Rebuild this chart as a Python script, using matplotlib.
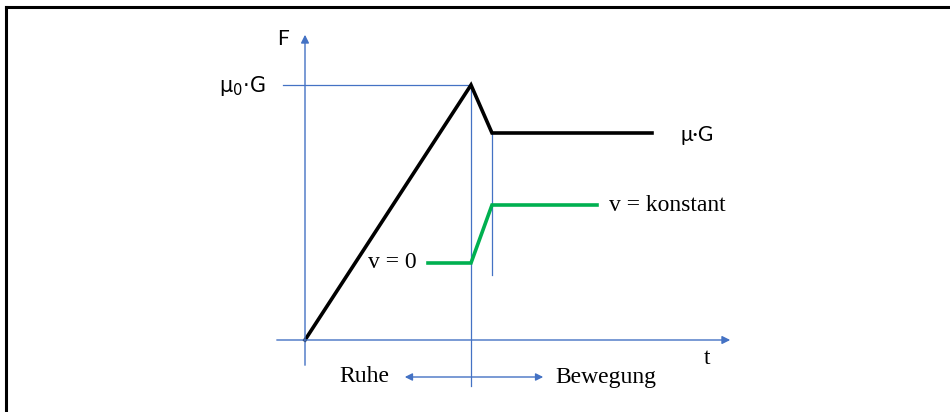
import numpy as np
import matplotlib
matplotlib.use('Agg')
import matplotlib.pyplot as plt
from matplotlib.lines import Line2D

# Kraftverlauf F(t): Haftreibung bis mu0*G, danach Gleitreibung mu*G
t_force = [0, 166, 187, 347]
F_force = [0, 255, 207, 207]

# Geschwindigkeit: v = 0 in Ruhe, dann v = konstant
t_speed = [123, 166, 187, 292]
v_speed = [77, 77, 135, 135]

F_haft = 255      # mu0*G
t_haft = 166      # Losbrechzeitpunkt
t_gleit = 187     # Beginn der Gleitphase

blue = '#4472C4'
green = '#00B050'
sans = ['Lato', 'DejaVu Sans']
serif = ['Liberation Serif', 'DejaVu Serif']

plt.rcParams['mathtext.fontset'] = 'custom'
plt.rcParams['mathtext.rm'] = 'Lato'

fig = plt.figure(figsize=(9.5, 4.12), dpi=100)
ax = fig.add_axes([0, 0, 1, 1])
ax.set_xlim(-305, 645)
ax.set_ylim(-72, 340)
ax.axis('off')

# Achsen mit Pfeilen
ax.annotate('', xy=(0, 308), xytext=(0, -28),
            arrowprops=dict(arrowstyle='-|>', color=blue, lw=1.0, mutation_scale=12))
ax.annotate('', xy=(428, 0), xytext=(-31, 0),
            arrowprops=dict(arrowstyle='-|>', color=blue, lw=1.0, mutation_scale=12))

# Hilfslinien
ax.plot([-22, t_haft], [F_haft, F_haft], color=blue, lw=0.9)
ax.plot([t_haft, t_haft], [F_haft, -46], color=blue, lw=0.9)
ax.plot([t_gleit, t_gleit], [F_force[2], 65], color=blue, lw=0.9)

# Kurven
ax.plot(t_force, F_force, color='black', lw=2.6, solid_joinstyle='miter')
ax.plot(t_speed, v_speed, color=green, lw=2.6, solid_joinstyle='miter')

# Beschriftungen
ax.text(-22, 301, 'F', family=sans, fontsize=15, ha='center', va='center')
ax.text(402, -18, 't', family=serif, fontsize=17, ha='center', va='center')
ax.text(-40, 254, r'$\mathregular{μ_0·G}$', fontsize=15, ha='right', va='center')
ax.text(375, 205, 'μ·G', family=sans, fontsize=15, ha='left', va='center')
ax.text(304, 135, 'v = konstant', family=serif, fontsize=17, ha='left', va='center')
ax.text(112, 77, 'v = 0', family=serif, fontsize=17, ha='right', va='center')
ax.text(34, -37, 'Ruhe', family=serif, fontsize=17, ha='left', va='center')
ax.text(250, -37, 'Bewegung', family=serif, fontsize=17, ha='left', va='center')
ax.annotate('', xy=(97, -37), xytext=(241, -37),
            arrowprops=dict(arrowstyle='<|-|>', color=blue, lw=1.0, mutation_scale=11))

# Rahmen oben und links
fig.add_artist(Line2D([5.5 / 950, 1], [1 - 6.5 / 412, 1 - 6.5 / 412], color='black', lw=2.2))
fig.add_artist(Line2D([5.5 / 950, 5.5 / 950], [0, 1 - 6.5 / 412], color='black', lw=2.2))

fig.savefig('out.png', dpi=100)
